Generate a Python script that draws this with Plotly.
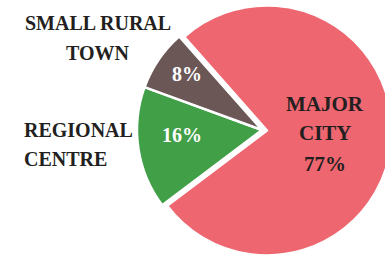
import plotly.graph_objects as go

categories = ["REGIONAL CENTRE", "SMALL RURAL TOWN", "MAJOR CITY"]
label_lines = [["REGIONAL", "CENTRE"], ["SMALL RURAL", "TOWN"], ["MAJOR", "CITY"]]
values = [16, 8, 77]
colors = ["#41A047", "#6A5756", "#EE6670"]
pulls = [0, 0, 0.04]

W, H = 395, 260
FONT = "Liberation Serif, DejaVu Serif, serif"
DARK = "#231F20"

fig = go.Figure(go.Pie(
    labels=categories, values=values, sort=False, direction="clockwise",
    rotation=233, pull=pulls, textinfo="none", hoverinfo="none",
    marker=dict(colors=colors, line=dict(color="white", width=2.5)),
    domain=dict(x=[(262 - 130) / W, (262 + 130) / W], y=[0, 1]),
    showlegend=False,
))


def add_text(t, x, y, xanchor="center", color=DARK, size=20):
    fig.add_annotation(text=f"<b>{t}</b>", x=x / W, y=1 - y / H, xref="paper", yref="paper",
                       xanchor=xanchor, yanchor="middle", showarrow=False,
                       font=dict(family=FONT, size=size, color=color))


# outside category labels
add_text(label_lines[1][0], 98, 23)
add_text(label_lines[1][1], 98, 53)
add_text(label_lines[0][0], 22, 130, xanchor="left")
add_text(label_lines[0][1], 22, 159, xanchor="left")
# inside labels
add_text(f"{values[1]}%", 187, 74, color="white")
add_text(f"{values[0]}%", 182, 135, color="white")
add_text(label_lines[2][0], 325, 104, size=21)
add_text(label_lines[2][1], 325, 133, size=21)
add_text(f"{values[2]}%", 325, 164, size=21)

fig.update_layout(width=W, height=H, margin=dict(l=0, r=0, t=0, b=0),
                  paper_bgcolor="white", plot_bgcolor="white")

fig.write_html("out.html", config={"displayModeBar": False},
               post_script="document.body.style.margin='0';document.body.style.overflow='hidden';")
